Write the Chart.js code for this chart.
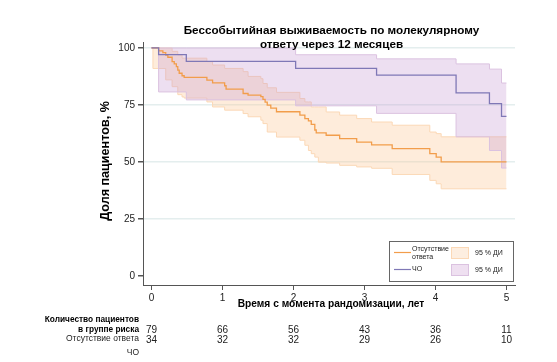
<!DOCTYPE html>
<html lang="ru">
<head>
<meta charset="utf-8">
<title>Бессобытийная выживаемость</title>
<script src="https://cdn.jsdelivr.net/npm/chart.js@4.4.1/dist/chart.umd.min.js"></script>
<style>
  html, body { margin: 0; padding: 0; background: #fff; }
  #wrap { position: relative; width: 557px; height: 362px; }
</style>
</head>
<body>
<div id="wrap"><canvas id="kmChart" width="557" height="362"></canvas></div>
<script>
// ===== Data =====

// Отсутствие ответа — KM curve
const noRespTimes = [0, 0.10, 0.16, 0.20, 0.23, 0.29, 0.32, 0.35, 0.37, 0.39, 0.43, 0.46, 0.78, 0.86, 1.03, 1.05, 1.29, 1.36, 1.54, 1.57, 1.60, 1.63, 1.68, 1.76, 2.09, 2.16, 2.21, 2.25, 2.30, 2.32, 2.46, 2.65, 2.89, 3.10, 3.39, 3.92, 4.01, 4.08, 5.0];
const noRespSurv  = [100, 98.7, 97.9, 96.9, 95.9, 94.0, 93.0, 91.8, 90.3, 88.9, 87.8, 87.1, 85.9, 84.7, 83.4, 81.9, 80.0, 79.3, 78.6, 77.4, 76.2, 74.9, 73.6, 72.0, 70.5, 69.0, 68.0, 66.5, 64.0, 62.7, 61.7, 60.2, 58.7, 57.5, 55.8, 53.6, 52.1, 50.0, 50.0];

// Отсутствие ответа — 95 % ДИ
const noRespCiTimes = [0, 0.02, 0.20, 0.29, 0.37, 0.43, 0.46, 0.78, 0.86, 1.03, 1.29, 1.36, 1.54, 1.57, 1.63, 1.76, 2.09, 2.16, 2.21, 2.25, 2.30, 2.35, 2.46, 2.65, 2.89, 3.10, 3.39, 3.92, 4.01, 4.08, 5.0];
const noRespLower   = [100, 91.0, 86.0, 83.0, 79.5, 78.5, 78.0, 76.3, 74.1, 72.7, 71.2, 69.8, 68.3, 66.8, 63.1, 60.9, 59.5, 57.3, 55.0, 53.6, 52.1, 49.9, 49.5, 48.5, 47.8, 47.2, 44.5, 41.9, 40.4, 38.2, 38.2];
const noRespUpper   = [100, 100, 100, 98.5, 96.9, 95.5, 95.5, 94.0, 92.5, 91.0, 89.6, 87.5, 86.5, 84.4, 82.5, 80.5, 77.8, 76.3, 76.3, 74.1, 74.1, 74.1, 71.9, 70.5, 69.0, 67.5, 66.1, 63.1, 62.4, 61.0, 61.0];

// ЧО — KM curve and 95 % ДИ (same event times)
const crTimes = [0, 0.10, 0.49, 2.03, 3.17, 4.29, 4.76, 4.93, 5.0];
const crSurv  = [100, 97.1, 94.1, 91.0, 88.1, 80.3, 75.6, 70.0, 70.0];
const crLower = [100, 80.7, 77.2, 74.6, 71.3, 61.0, 55.0, 47.3, 47.3];
const crUpper = [100, 100, 100, 97.0, 95.2, 93.0, 90.7, 84.6, 84.6];

// Tick labels
const xTicks = [0, 1, 2, 3, 4, 5];
const yTicks = [0, 25, 50, 75, 100];

// Количество пациентов в группе риска
const riskNoResp = [79, 66, 56, 43, 36, 11];
const riskCR     = [34, 32, 32, 29, 26, 10];

// ===== Styles =====
const FONT = "'Liberation Sans', Arial, sans-serif";
const orangeLine = '#f29d4b';
const orangeEdge = '#fbd8b6';
const orangeFill = 'rgba(253, 200, 150, 0.34)';
const purpleLine = '#7f78b6';
const purpleEdge = '#dbc2e0';
const purpleFill = 'rgba(200, 155, 210, 0.32)';
const gridColor = '#e4eeee';
const axisColor = '#555';

const pts = (xs, ys) => xs.map((x, i) => ({ x, y: ys[i] }));

function stepLine(label, xs, ys, color, width, extra) {
  return Object.assign({
    label,
    data: pts(xs, ys),
    borderColor: color,
    borderWidth: width,
    backgroundColor: 'transparent',
    stepped: true,
    pointRadius: 0,
    fill: false,
  }, extra || {});
}

// ===== Extra texts: title, axis titles, legend, risk table =====
const kmText = {
  id: 'kmText',
  afterDraw(chart) {
    const ctx = chart.ctx;
    const x = chart.scales.x;
    ctx.save();
    ctx.fillStyle = '#000';
    ctx.textBaseline = 'middle';

    // title
    ctx.textAlign = 'center';
    ctx.font = 'bold 11.7px ' + FONT;
    ctx.fillText('Бессобытийная выживаемость по молекулярному', 331.5, 30.5);
    ctx.fillText('ответу через 12 месяцев', 331.5, 45);

    // x axis title
    ctx.font = 'bold 10.2px ' + FONT;
    ctx.fillText('Время с момента рандомизации, лет', 331, 304);

    // y axis title
    ctx.save();
    ctx.translate(106, 161);
    ctx.rotate(-Math.PI / 2);
    ctx.font = 'bold 12.6px ' + FONT;
    ctx.fillText('Доля пациентов, %', 0, 0);
    ctx.restore();

    // risk table
    ctx.textAlign = 'right';
    ctx.font = 'bold 8.3px ' + FONT;
    ctx.fillText('Количество пациентов', 139, 320);
    ctx.fillText('в группе риска', 139, 329.5);
    ctx.font = '8.5px ' + FONT;
    ctx.fillStyle = '#222';
    ctx.fillText('Отсутствие ответа', 139, 338.5);
    ctx.fillText('ЧО', 139, 352.5);

    ctx.textAlign = 'center';
    ctx.font = '10px ' + FONT;
    ctx.fillStyle = '#222';
    xTicks.forEach((t, i) => {
      const px = x.getPixelForValue(t);
      ctx.fillText(String(riskNoResp[i]), px, 330);
      ctx.fillText(String(riskCR[i]), px, 340.5);
    });

    // legend
    ctx.fillStyle = '#fff';
    ctx.fillRect(389.5, 241.5, 124, 40);
    ctx.strokeStyle = '#666';
    ctx.lineWidth = 1;
    ctx.strokeRect(389.5, 241.5, 124, 40);

    ctx.lineWidth = 1.2;
    ctx.strokeStyle = orangeLine;
    ctx.beginPath(); ctx.moveTo(394, 252.5); ctx.lineTo(411, 252.5); ctx.stroke();
    ctx.strokeStyle = purpleLine;
    ctx.beginPath(); ctx.moveTo(394, 269.5); ctx.lineTo(411, 269.5); ctx.stroke();

    ctx.fillStyle = '#fdeee0';
    ctx.fillRect(451, 247, 18, 12);
    ctx.fillStyle = '#efe0f1';
    ctx.fillRect(451, 264, 18, 12);
    ctx.lineWidth = 1;
    ctx.strokeStyle = orangeEdge;
    ctx.strokeRect(451.5, 247.5, 17, 11);
    ctx.strokeStyle = purpleEdge;
    ctx.strokeRect(451.5, 264.5, 17, 11);

    ctx.fillStyle = '#222';
    ctx.textAlign = 'left';
    ctx.font = '7px ' + FONT;
    ctx.fillText('Отсутствие', 412, 249);
    ctx.fillText('ответа', 412, 257.5);
    ctx.fillText('ЧО', 412, 269.5);
    ctx.fillText('95 % ДИ', 475, 253);
    ctx.fillText('95 % ДИ', 475, 270);

    ctx.restore();
  }
};

const ctx = document.getElementById('kmChart').getContext('2d');

new Chart(ctx, {
  type: 'line',
  data: {
    datasets: [
      stepLine('ЧО', crTimes, crSurv, purpleLine, 1.3),
      stepLine('Отсутствие ответа', noRespTimes, noRespSurv, orangeLine, 1.3),
      stepLine('ЧО нижняя граница', crTimes, crLower, purpleEdge, 1),
      stepLine('ЧО 95 % ДИ', crTimes, crUpper, purpleEdge, 1, { fill: '-1', backgroundColor: purpleFill }),
      stepLine('Отсутствие ответа нижняя граница', noRespCiTimes, noRespLower, orangeEdge, 1),
      stepLine('Отсутствие ответа 95 % ДИ', noRespCiTimes, noRespUpper, orangeEdge, 1, { fill: '-1', backgroundColor: orangeFill }),
    ]
  },
  options: {
    responsive: false,
    animation: false,
    layout: { padding: { top: 42, right: 42, bottom: 0, left: 0 } },
    plugins: {
      legend: { display: false },
      title: { display: false },
      tooltip: { enabled: false },
      filler: { propagate: false }
    },
    scales: {
      x: {
        type: 'linear',
        min: -0.12,
        max: 5.12,
        afterBuildTicks: s => { s.ticks = xTicks.map(v => ({ value: v })); },
        afterFit: s => { s.height = 77; },
        border: { color: axisColor, width: 1 },
        grid: { drawOnChartArea: false, drawTicks: true, tickLength: 5, tickColor: axisColor },
        ticks: { color: '#222', padding: 2, font: { family: FONT, size: 10 } }
      },
      y: {
        min: -4,
        max: 102.6,
        afterBuildTicks: s => { s.ticks = yTicks.map(v => ({ value: v })); },
        afterFit: s => { s.width = 143; },
        border: { color: axisColor, width: 1 },
        grid: {
          color: c => (c.tick && c.tick.value === 0) ? 'rgba(0,0,0,0)' : gridColor,
          lineWidth: 1.5,
          tickLength: 5,
          tickColor: axisColor
        },
        ticks: { color: '#222', padding: 3, font: { family: FONT, size: 10 } }
      }
    }
  },
  plugins: [kmText]
});
</script>
</body>
</html>
